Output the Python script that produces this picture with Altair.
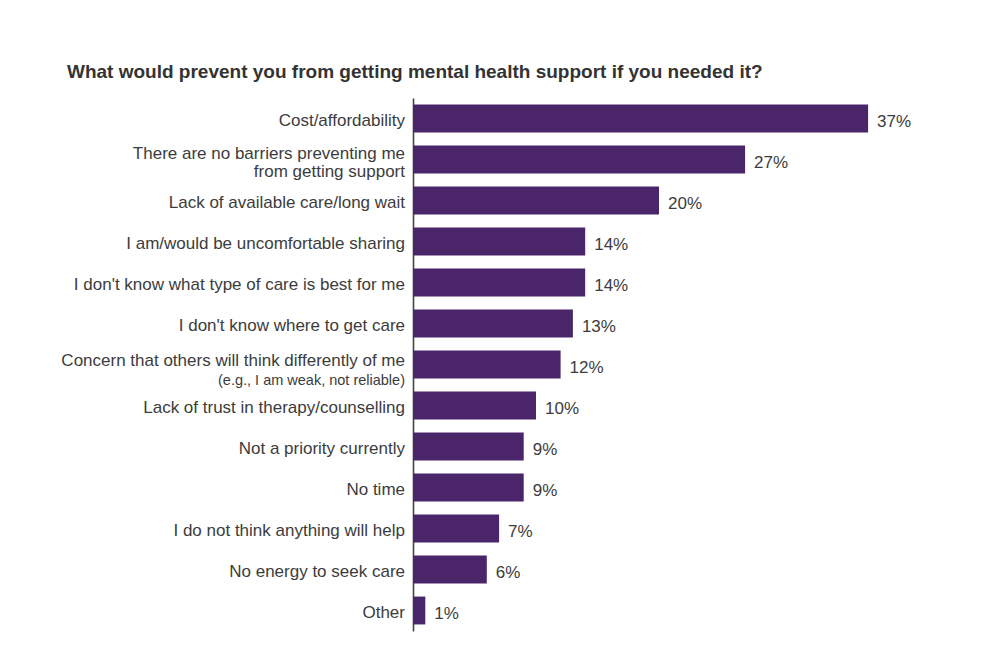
import pandas as pd
import altair as alt

# chart data
line1 = [
    "Cost/affordability",
    "There are no barriers preventing me",
    "Lack of available care/long wait",
    "I am/would be uncomfortable sharing",
    "I don't know what type of care is best for me",
    "I don't know where to get care",
    "Concern that others will think differently of me",
    "Lack of trust in therapy/counselling",
    "Not a priority currently",
    "No time",
    "I do not think anything will help",
    "No energy to seek care",
    "Other",
]
line2 = ["", "from getting support", "", "", "", "", "(e.g., I am weak, not reliable)",
         "", "", "", "", "", ""]
line2_size = [0, 17, 0, 0, 0, 0, 14.5, 0, 0, 0, 0, 0, 0]
values = [37, 27, 20, 14, 14, 13, 12, 10, 9, 9, 7, 6, 1]

c_title = "What would prevent you from getting mental health support if you needed it?"
c_font = "Liberation Sans"
c_bar = "#4a256a"
c_text = "#3c3c3c"
c_size = 17

df = pd.DataFrame({
    "cause": line1,
    "sub": line2,
    "sub_size": line2_size,
    "pct": values,
})
df["label"] = df["pct"].astype(str) + "%"

y_enc = alt.Y("cause:N", sort=line1, title=None,
              scale=alt.Scale(paddingInner=0.32, paddingOuter=0.16),
              axis=alt.Axis(labels=False, ticks=False, domain=True,
                            domainColor="#444", domainWidth=1.6))
y_plain = alt.Y("cause:N", sort=line1)

base = alt.Chart(df)

bars = base.mark_bar(color=c_bar).encode(
    x=alt.X("pct:Q", axis=None, scale=alt.Scale(domain=[0, 40], nice=False)),
    y=y_enc,
)

values_text = base.mark_text(align="left", baseline="middle", dx=9, dy=3, fontSize=c_size,
                             font=c_font, color=c_text).encode(
    x="pct:Q", y=y_plain, text="label:N",
)


def label_layer(filter_expr, field, dy, size):
    return base.transform_filter(filter_expr).mark_text(
        align="right", baseline="middle", dy=dy, fontSize=size,
        font=c_font, color=c_text
    ).encode(x=alt.value(-8), y=y_plain, text=field + ":N")


single = label_layer("datum.sub_size == 0", "cause", 2, c_size)
# two-line label with a same-size second line
big_top = label_layer("datum.sub_size > 16", "cause", -6, c_size)
big_bottom = label_layer("datum.sub_size > 16", "sub", 12, c_size)
# two-line label with a small note underneath
small_top = label_layer("datum.sub_size > 0 && datum.sub_size < 16", "cause", -4, c_size)
small_bottom = label_layer("datum.sub_size > 0 && datum.sub_size < 16", "sub", 16, 14.5)

chart = (
    alt.layer(bars, values_text, single, big_top, big_bottom, small_top, small_bottom)
    .properties(
        width=492,
        height=533,
        autosize=alt.AutoSizeParams(type="none"),
        padding={"left": 405, "top": 90, "right": 70, "bottom": 10},
        title=alt.TitleParams(c_title, anchor="start", frame="group", dx=-346, offset=16,
                              fontSize=19, font=c_font, fontWeight="bold",
                              color="#333333"),
    )
    .configure_view(strokeWidth=0)
)

chart.save("out.html", embed_options={"renderer": "svg", "actions": False})
